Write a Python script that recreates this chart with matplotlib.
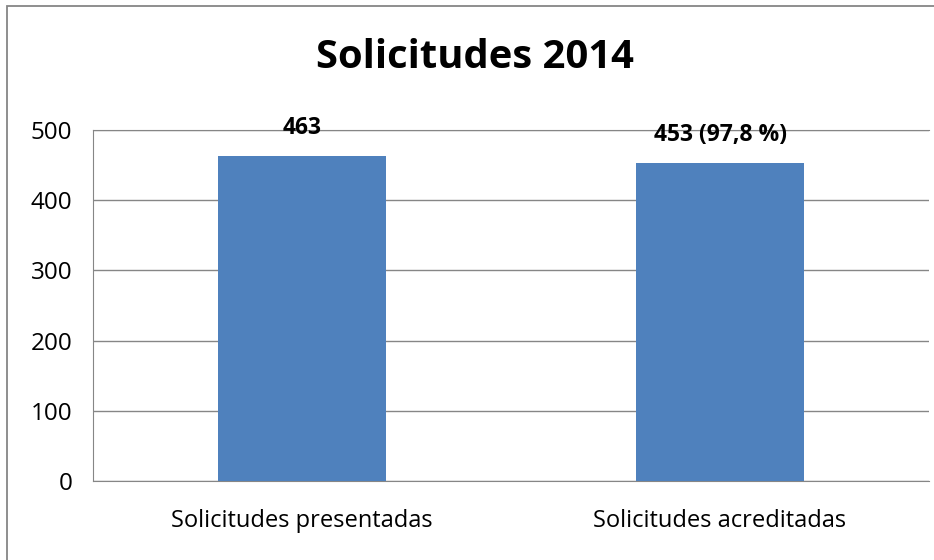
import matplotlib.pyplot as plt
from matplotlib.patches import Rectangle

categorias = ["Solicitudes presentadas", "Solicitudes acreditadas"]
valores = [463, 453]
etiquetas = ["463", "453 (97,8 %)"]

plt.rcParams['font.family'] = ['Open Sans', 'DejaVu Sans']

fig = plt.figure(figsize=(9.34, 5.6), dpi=100)
# marco exterior del grafico (solo se ve arriba y a la izquierda)
fig.patches.append(Rectangle((7/934, -0.1), 1.2, 1 - 6/560 + 0.1, transform=fig.transFigure,
                             fill=False, ec="#868686", lw=1.3))

ax = fig.add_axes([93/934, 1 - 481/560, 836/934, 351/560])
x = range(len(categorias))
ax.bar(x, valores, width=0.4, color="#4F81BD", zorder=3)
for i, v in enumerate(valores):
    ax.text(i, v + 40, etiquetas[i], ha="center", va="center", fontsize=16.5, fontweight="bold")

ax.set_xlim(-0.5, 1.5)
ax.set_ylim(0, 500)
ax.set_yticks(range(0, 501, 100))
ax.yaxis.grid(True, color="#868686", lw=1, zorder=0)
ax.set_xticks(list(x))
ax.set_xticklabels(categorias, fontsize=17)
ax.tick_params(axis="y", labelsize=17.5, length=0, pad=15)
ax.tick_params(axis="x", length=0, pad=20)
for s in ["left", "top", "bottom"]:
    ax.spines[s].set_color("#868686")
ax.spines["right"].set_visible(False)

fig.text(475/934, 1 - 58/560, "Solicitudes 2014", ha="center", va="center", fontsize=28.8, fontweight="bold")

plt.savefig("out.png", dpi=100)
plt.close()
